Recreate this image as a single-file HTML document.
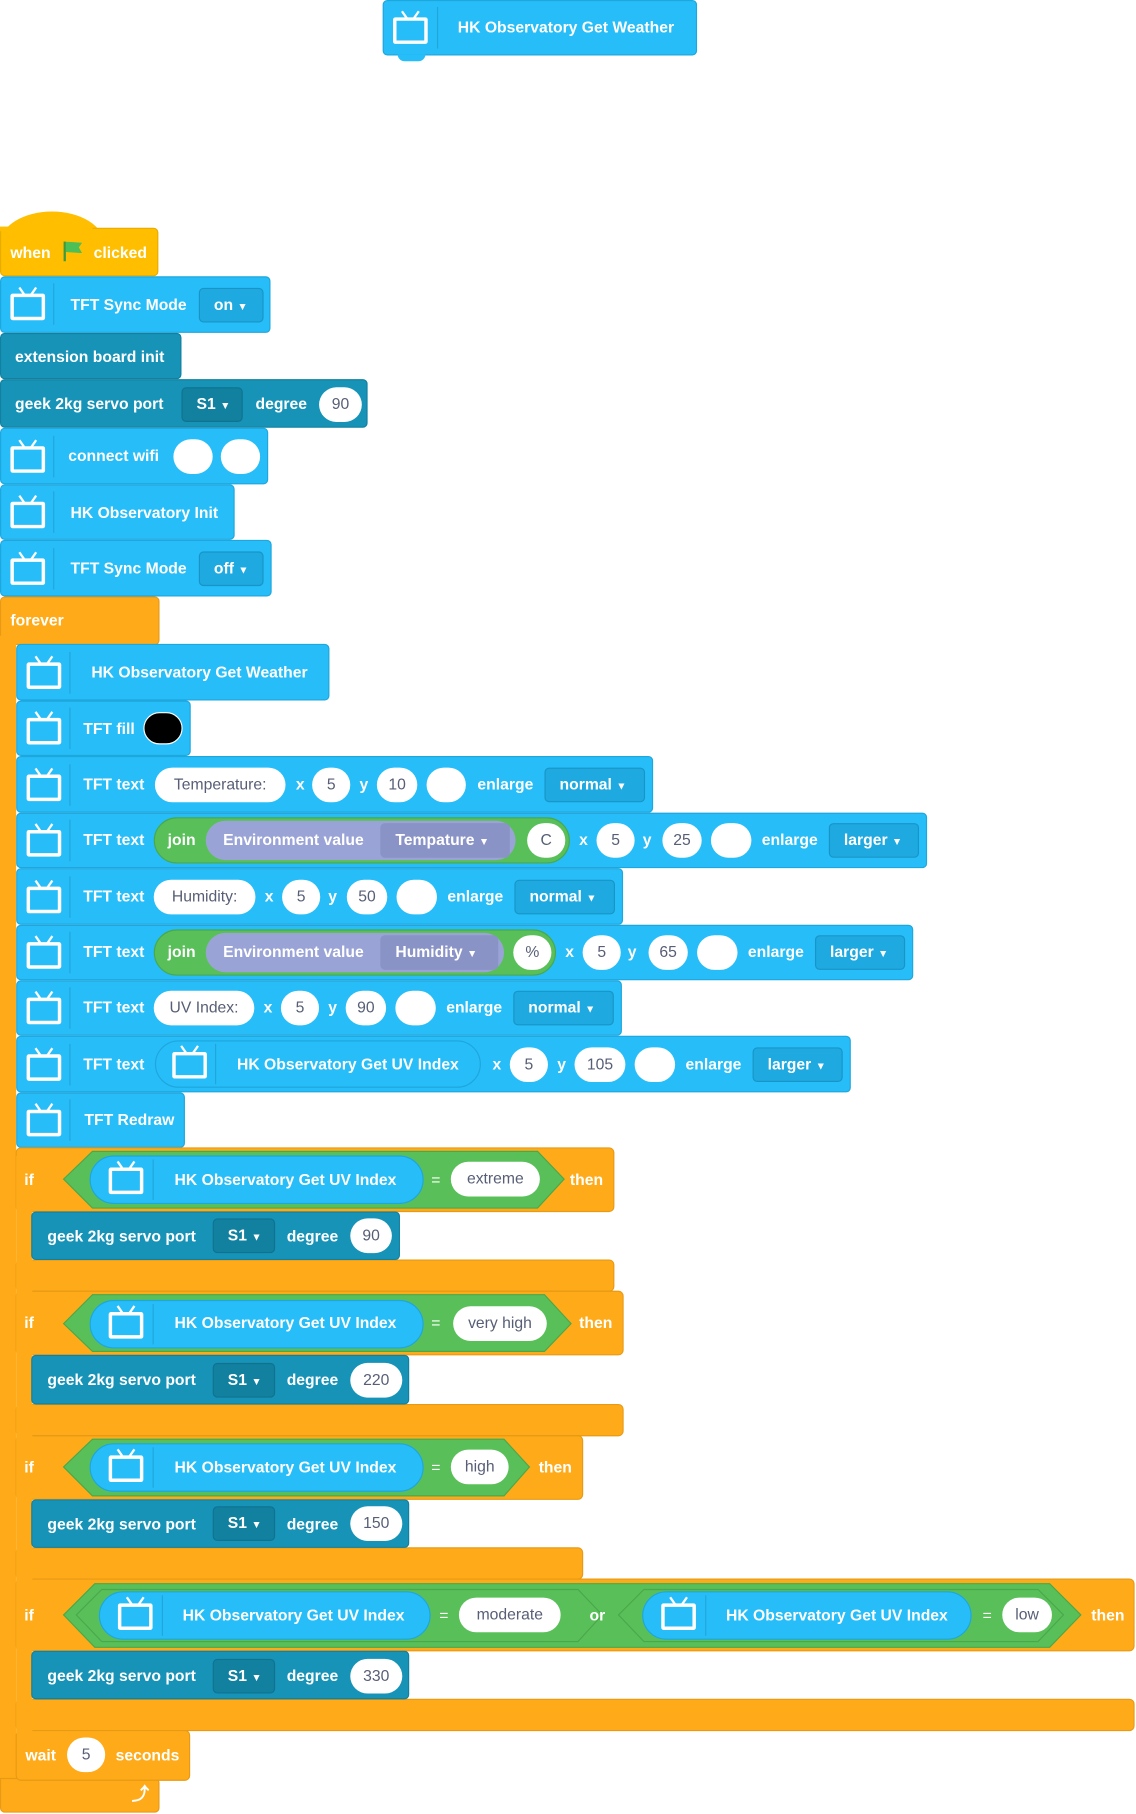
<!DOCTYPE html>
<html><head><meta charset="utf-8"><style>
html,body{margin:0;padding:0;background:#fff;width:1136px;height:1813px;overflow:hidden}
#w{position:absolute;left:0;top:0;width:983px;height:1569px;transform:scale(1.156);transform-origin:0 0;font-family:"Liberation Sans",Arial,sans-serif;font-weight:bold;font-size:13.6px}
.b{position:absolute;background:#26BDF8;border:1px solid #1FA6DC;border-radius:4px;box-sizing:border-box}
.d{background:#1793B8;border-color:#12809F}
.o{background:#FFAB19;border-color:#E89A14}
.h{background:#FFBF00;border-color:#E6AC00}
.t{position:absolute;color:#fff;white-space:nowrap;line-height:16px}
.ov{position:absolute;background:#fff;border-radius:20px;color:#575E75;text-align:center;font-weight:normal;line-height:30px;height:30px;box-sizing:border-box}
.dd{position:absolute;background:#1EA9E1;border:1px solid #1895C6;border-radius:4px;color:#fff;box-sizing:border-box;height:30px;line-height:28px;padding-left:12px}
.ddd{background:#12809F;border-color:#0F7390}
.tv{position:absolute;width:30px;height:23px;border:3.5px solid #fff;border-radius:2px;box-sizing:border-box}
.tv:before,.tv:after{content:"";position:absolute;top:-9px;width:2px;height:8px;background:#fff}
.tv:before{left:6px;transform:rotate(-35deg)}
.tv:after{left:16px;transform:rotate(35deg)}
.sep{position:absolute;width:1px;background:rgba(0,0,0,0.12)}
.nt{position:absolute;width:24px;height:6px;border-radius:0 0 6px 6px}
.tri{font-size:9px}
</style></head><body><div id="w">

<!-- top block -->
<div class="b" style="left:331px;top:0;width:272px;height:48px"></div>
<div class="nt" style="left:344px;top:47px;background:#26BDF8"></div>
<div class="tv" style="left:340px;top:15px"></div><div class="sep" style="left:378px;top:6px;height:36px"></div>
<div class="t" style="left:396px;top:16px">HK Observatory Get Weather</div>

<!-- hat -->
<div style="position:absolute;left:0;top:183px;width:90px;height:32px;background:#FFBF00;border-radius:45px 45px 0 0 / 28px 28px 0 0"></div>
<div class="b h" style="left:0;top:197px;width:137px;height:42px;border-top-left-radius:0"></div>
<div style="position:absolute;left:0;top:196px;width:80px;height:4px;background:#FFBF00"></div>
<div class="t" style="left:9px;top:211px">when</div>
<div style="position:absolute;left:55px;top:209px;width:2px;height:17px;background:#3E9A3E"></div>
<div style="position:absolute;left:57px;top:209px;width:14px;height:10px;background:#4CBF56;clip-path:polygon(0 0,100% 10%,80% 50%,100% 100%,0 90%)"></div>
<div class="t" style="left:81px;top:211px">clicked</div>

<!-- sync on -->
<div class="b" style="left:0;top:239px;width:234px;height:49px"></div>
<div class="tv" style="left:9px;top:254px"></div><div class="sep" style="left:46px;top:245px;height:36px"></div>
<div class="t" style="left:61px;top:256px">TFT Sync Mode</div>
<div class="dd" style="left:172px;top:249px;width:56px">on <span class="tri">▼</span></div>

<div class="b d" style="left:0;top:288px;width:157px;height:40px"></div>
<div class="t" style="left:13px;top:301px">extension board init</div>

<div class="b d" style="left:0;top:328px;width:318px;height:42px"></div>
<div class="t" style="left:13px;top:342px">geek 2kg servo port</div>
<div class="dd ddd" style="left:157px;top:335px;width:53px">S1 <span class="tri">▼</span></div>
<div class="t" style="left:221px;top:342px">degree</div>
<div class="ov" style="left:276px;top:335px;width:37px">90</div>

<div class="b" style="left:0;top:370px;width:232px;height:49px"></div>
<div class="tv" style="left:9px;top:386px"></div><div class="sep" style="left:46px;top:377px;height:36px"></div>
<div class="t" style="left:59px;top:387px">connect wifi</div>
<div class="ov" style="left:150px;top:380px;width:34px"></div>
<div class="ov" style="left:191px;top:380px;width:34px"></div>

<div class="b" style="left:0;top:419px;width:203px;height:48px"></div>
<div class="tv" style="left:9px;top:434px"></div><div class="sep" style="left:46px;top:425px;height:36px"></div>
<div class="t" style="left:61px;top:436px">HK Observatory Init</div>

<div class="b" style="left:0;top:467px;width:235px;height:49px"></div>
<div class="tv" style="left:9px;top:483px"></div><div class="sep" style="left:46px;top:474px;height:36px"></div>
<div class="t" style="left:61px;top:484px">TFT Sync Mode</div>
<div class="dd" style="left:172px;top:477px;width:56px">off <span class="tri">▼</span></div>

<!-- forever -->
<div class="b o" style="left:0;top:516px;width:138px;height:42px;border-bottom-left-radius:0;border-bottom-right-radius:4px"></div>
<div style="position:absolute;left:0;top:550px;width:14px;height:1000px;background:#FFAB19"></div>
<div class="b o" style="left:0;top:1538px;width:138px;height:30px;border-top-left-radius:0"></div>
<div class="t" style="left:9px;top:529px">forever</div>
<div class="t" style="left:114px;top:1545px;font-size:15px">⤴</div>

<!-- inner -->
<div class="b" style="left:14px;top:557px;width:271px;height:49px"></div>
<div class="tv" style="left:23px;top:573px"></div><div class="sep" style="left:60px;top:564px;height:36px"></div>
<div class="t" style="left:79px;top:574px">HK Observatory Get Weather</div>

<div class="b" style="left:14px;top:606px;width:151px;height:48px"></div>
<div class="tv" style="left:23px;top:621px"></div><div class="sep" style="left:60px;top:612px;height:36px"></div>
<div class="t" style="left:72px;top:623px">TFT fill</div>
<div style="position:absolute;left:124px;top:616px;width:34px;height:28px;background:#000;border:1.5px solid #fff;border-radius:15px;box-sizing:border-box"></div>

<!-- row1 -->
<div class="b" style="left:14px;top:654px;width:551px;height:49px"></div>
<div class="tv" style="left:23px;top:670px"></div><div class="sep" style="left:60px;top:661px;height:36px"></div>
<div class="t" style="left:72px;top:671px">TFT text</div>
<div class="ov" style="left:134px;top:664px;width:113px">Temperature:</div>
<div class="t" style="left:256px;top:671px">x</div>
<div class="ov" style="left:270px;top:664px;width:33px">5</div>
<div class="t" style="left:311px;top:671px">y</div>
<div class="ov" style="left:326px;top:664px;width:35px">10</div>
<div class="ov" style="left:369px;top:664px;width:34px"></div>
<div class="t" style="left:413px;top:671px">enlarge</div>
<div class="dd" style="left:471px;top:664px;width:87px">normal <span class="tri">▼</span></div>

<!-- row2 -->
<div class="b" style="left:14px;top:703px;width:788px;height:48px"></div>
<div class="tv" style="left:23px;top:718px"></div><div class="sep" style="left:60px;top:709px;height:36px"></div>
<div class="t" style="left:72px;top:719px">TFT text</div>
<div style="position:absolute;left:133px;top:707px;width:360px;height:40px;background:#59C059;border:1px solid #4AA84A;border-radius:20px;box-sizing:border-box"></div>
<div class="t" style="left:145px;top:719px">join</div>
<div style="position:absolute;left:178px;top:710px;width:268px;height:34px;background:#9AA3D6;border-radius:17px"></div>
<div class="t" style="left:193px;top:719px">Environment value</div>
<div class="dd" style="left:329px;top:712px;width:112px;background:#8A93C6;border-color:#8A93C6">Tempature <span class="tri">▼</span></div>
<div class="ov" style="left:456px;top:712px;width:33px">C</div>
<div class="t" style="left:501px;top:719px">x</div>
<div class="ov" style="left:516px;top:712px;width:33px">5</div>
<div class="t" style="left:556px;top:719px">y</div>
<div class="ov" style="left:573px;top:712px;width:34px">25</div>
<div class="ov" style="left:615px;top:712px;width:35px"></div>
<div class="t" style="left:659px;top:719px">enlarge</div>
<div class="dd" style="left:717px;top:712px;width:78px">larger <span class="tri">▼</span></div>

<!-- row3 -->
<div class="b" style="left:14px;top:751px;width:525px;height:49px"></div>
<div class="tv" style="left:23px;top:767px"></div><div class="sep" style="left:60px;top:758px;height:36px"></div>
<div class="t" style="left:72px;top:768px">TFT text</div>
<div class="ov" style="left:133px;top:761px;width:88px">Humidity:</div>
<div class="t" style="left:229px;top:768px">x</div>
<div class="ov" style="left:244px;top:761px;width:33px">5</div>
<div class="t" style="left:284px;top:768px">y</div>
<div class="ov" style="left:300px;top:761px;width:35px">50</div>
<div class="ov" style="left:343px;top:761px;width:35px"></div>
<div class="t" style="left:387px;top:768px">enlarge</div>
<div class="dd" style="left:445px;top:761px;width:87px">normal <span class="tri">▼</span></div>

<!-- row4 -->
<div class="b" style="left:14px;top:800px;width:776px;height:48px"></div>
<div class="tv" style="left:23px;top:815px"></div><div class="sep" style="left:60px;top:806px;height:36px"></div>
<div class="t" style="left:72px;top:816px">TFT text</div>
<div style="position:absolute;left:133px;top:804px;width:348px;height:40px;background:#59C059;border:1px solid #4AA84A;border-radius:20px;box-sizing:border-box"></div>
<div class="t" style="left:145px;top:816px">join</div>
<div style="position:absolute;left:178px;top:807px;width:258px;height:34px;background:#9AA3D6;border-radius:17px"></div>
<div class="t" style="left:193px;top:816px">Environment value</div>
<div class="dd" style="left:329px;top:809px;width:102px;background:#8A93C6;border-color:#8A93C6">Humidity <span class="tri">▼</span></div>
<div class="ov" style="left:444px;top:809px;width:33px">%</div>
<div class="t" style="left:489px;top:816px">x</div>
<div class="ov" style="left:504px;top:809px;width:33px">5</div>
<div class="t" style="left:543px;top:816px">y</div>
<div class="ov" style="left:561px;top:809px;width:34px">65</div>
<div class="ov" style="left:603px;top:809px;width:35px"></div>
<div class="t" style="left:647px;top:816px">enlarge</div>
<div class="dd" style="left:705px;top:809px;width:78px">larger <span class="tri">▼</span></div>

<!-- row5 -->
<div class="b" style="left:14px;top:848px;width:524px;height:48px"></div>
<div class="tv" style="left:23px;top:863px"></div><div class="sep" style="left:60px;top:854px;height:36px"></div>
<div class="t" style="left:72px;top:864px">TFT text</div>
<div class="ov" style="left:133px;top:857px;width:87px">UV Index:</div>
<div class="t" style="left:228px;top:864px">x</div>
<div class="ov" style="left:243px;top:857px;width:33px">5</div>
<div class="t" style="left:284px;top:864px">y</div>
<div class="ov" style="left:299px;top:857px;width:35px">90</div>
<div class="ov" style="left:342px;top:857px;width:35px"></div>
<div class="t" style="left:386px;top:864px">enlarge</div>
<div class="dd" style="left:444px;top:857px;width:87px">normal <span class="tri">▼</span></div>

<!-- row6 -->
<div class="b" style="left:14px;top:896px;width:722px;height:49px"></div>
<div class="tv" style="left:23px;top:912px"></div><div class="sep" style="left:60px;top:903px;height:36px"></div>
<div class="t" style="left:72px;top:913px">TFT text</div>
<div style="position:absolute;left:134px;top:900px;width:282px;height:41px;background:#26BDF8;border:1px solid #1FA6DC;border-radius:21px;box-sizing:border-box"></div>
<div class="tv" style="left:149px;top:910px"></div><div class="sep" style="left:186px;top:903px;height:35px"></div>
<div class="t" style="left:205px;top:913px">HK Observatory Get UV Index</div>
<div class="t" style="left:426px;top:913px">x</div>
<div class="ov" style="left:441px;top:906px;width:33px">5</div>
<div class="t" style="left:482px;top:913px">y</div>
<div class="ov" style="left:497px;top:906px;width:44px">105</div>
<div class="ov" style="left:549px;top:906px;width:35px"></div>
<div class="t" style="left:593px;top:913px">enlarge</div>
<div class="dd" style="left:651px;top:906px;width:78px">larger <span class="tri">▼</span></div>

<!-- redraw -->
<div class="b" style="left:14px;top:945px;width:146px;height:48px"></div>
<div class="tv" style="left:23px;top:960px"></div><div class="sep" style="left:60px;top:951px;height:36px"></div>
<div class="t" style="left:73px;top:961px">TFT Redraw</div>

<!-- IF blocks -->
<svg style="position:absolute;left:0;top:0" width="983" height="1569">
<g fill="#FFAB19" stroke="#E89A14" stroke-width="1">
<rect x="14" y="993" width="517" height="55" rx="4"/><rect x="14" y="1090" width="517" height="27" rx="4"/>
<rect x="14" y="1117" width="525" height="55" rx="4"/><rect x="14" y="1215" width="525" height="27" rx="4"/>
<rect x="14" y="1242" width="490" height="55" rx="4"/><rect x="14" y="1339" width="490" height="27" rx="4"/>
<rect x="14" y="1366" width="967" height="62" rx="4"/><rect x="14" y="1470" width="967" height="27" rx="4"/>
<rect x="14" y="1497" width="150" height="43" rx="4"/>
</g>
<rect x="14" y="1000" width="14" height="500" fill="#FFAB19"/>
<g fill="#59C059" stroke="#4AA84A">
<polygon points="55,1020 80,996 465,996 488,1020 465,1045 80,1045"/>
<polygon points="55,1145 80,1120 471,1120 494,1145 471,1169 80,1169"/>
<polygon points="55,1269 80,1245 436,1245 458,1269 436,1294 80,1294"/>
<polygon points="55,1397 82,1370 908,1370 935,1397 908,1425 82,1425"/>
<polygon points="66,1397 88,1375 500,1375 521,1397 500,1420 88,1420"/>
<polygon points="535,1397 557,1375 898,1375 920,1397 898,1420 557,1420"/>
</g>
<g fill="#26BDF8" stroke="#1FA6DC">
<rect x="78" y="1000" width="288" height="41" rx="20.5"/>
<rect x="78" y="1125" width="288" height="41" rx="20.5"/>
<rect x="78" y="1249" width="288" height="41" rx="20.5"/>
<rect x="86" y="1377" width="286" height="41" rx="20.5"/>
<rect x="556" y="1377" width="284" height="41" rx="20.5"/>
</g>
</svg>

<div class="t" style="left:21px;top:1013px">if</div>
<div class="tv" style="left:94px;top:1010px"></div><div class="sep" style="left:132px;top:1003px;height:35px"></div>
<div class="t" style="left:151px;top:1013px">HK Observatory Get UV Index</div>
<div class="t" style="left:373px;top:1013px;font-weight:normal">=</div>
<div class="ov" style="left:390px;top:1005px;width:77px">extreme</div>
<div class="t" style="left:493px;top:1013px">then</div>
<div class="b d" style="left:27px;top:1048px;width:319px;height:42px"></div>
<div class="t" style="left:41px;top:1062px">geek 2kg servo port</div>
<div class="dd ddd" style="left:184px;top:1054px;width:54px">S1 <span class="tri">▼</span></div>
<div class="t" style="left:248px;top:1062px">degree</div>
<div class="ov" style="left:303px;top:1054px;width:36px">90</div>

<div class="t" style="left:21px;top:1137px">if</div>
<div class="tv" style="left:94px;top:1135px"></div><div class="sep" style="left:132px;top:1128px;height:35px"></div>
<div class="t" style="left:151px;top:1137px">HK Observatory Get UV Index</div>
<div class="t" style="left:373px;top:1137px;font-weight:normal">=</div>
<div class="ov" style="left:392px;top:1130px;width:81px">very high</div>
<div class="t" style="left:501px;top:1137px">then</div>
<div class="b d" style="left:27px;top:1172px;width:327px;height:43px"></div>
<div class="t" style="left:41px;top:1186px">geek 2kg servo port</div>
<div class="dd ddd" style="left:184px;top:1179px;width:54px">S1 <span class="tri">▼</span></div>
<div class="t" style="left:248px;top:1186px">degree</div>
<div class="ov" style="left:303px;top:1179px;width:45px">220</div>

<div class="t" style="left:21px;top:1262px">if</div>
<div class="tv" style="left:94px;top:1259px"></div><div class="sep" style="left:132px;top:1252px;height:35px"></div>
<div class="t" style="left:151px;top:1262px">HK Observatory Get UV Index</div>
<div class="t" style="left:373px;top:1262px;font-weight:normal">=</div>
<div class="ov" style="left:390px;top:1254px;width:50px">high</div>
<div class="t" style="left:466px;top:1262px">then</div>
<div class="b d" style="left:27px;top:1297px;width:327px;height:42px"></div>
<div class="t" style="left:41px;top:1311px">geek 2kg servo port</div>
<div class="dd ddd" style="left:184px;top:1303px;width:54px">S1 <span class="tri">▼</span></div>
<div class="t" style="left:248px;top:1311px">degree</div>
<div class="ov" style="left:303px;top:1303px;width:45px">150</div>

<div class="t" style="left:21px;top:1390px">if</div>
<div class="tv" style="left:102px;top:1387px"></div><div class="sep" style="left:140px;top:1380px;height:35px"></div>
<div class="t" style="left:158px;top:1390px">HK Observatory Get UV Index</div>
<div class="t" style="left:380px;top:1390px;font-weight:normal">=</div>
<div class="ov" style="left:397px;top:1382px;width:88px">moderate</div>
<div class="t" style="left:510px;top:1390px">or</div>
<div class="tv" style="left:572px;top:1387px"></div><div class="sep" style="left:610px;top:1380px;height:35px"></div>
<div class="t" style="left:628px;top:1390px">HK Observatory Get UV Index</div>
<div class="t" style="left:850px;top:1390px;font-weight:normal">=</div>
<div class="ov" style="left:867px;top:1382px;width:43px">low</div>
<div class="t" style="left:944px;top:1390px">then</div>
<div class="b d" style="left:27px;top:1428px;width:327px;height:42px"></div>
<div class="t" style="left:41px;top:1442px">geek 2kg servo port</div>
<div class="dd ddd" style="left:184px;top:1435px;width:54px">S1 <span class="tri">▼</span></div>
<div class="t" style="left:248px;top:1442px">degree</div>
<div class="ov" style="left:303px;top:1435px;width:45px">330</div>

<div class="t" style="left:22px;top:1511px">wait</div>
<div class="ov" style="left:58px;top:1503px;width:33px">5</div>
<div class="t" style="left:100px;top:1511px">seconds</div>

</div></body></html>
